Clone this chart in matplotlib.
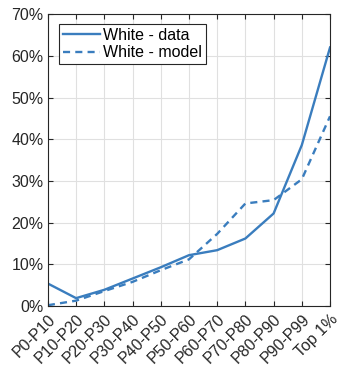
import numpy as np
import matplotlib.pyplot as plt
from matplotlib.ticker import PercentFormatter

plt.rcParams['font.family'] = ['Liberation Sans', 'DejaVu Sans']

groups = ["P0-P10", "P10-P20", "P20-P30", "P30-P40", "P40-P50", "P50-P60",
          "P60-P70", "P70-P80", "P80-P90", "P90-P99", "Top 1%"]
white_data = [5.4, 1.9, 3.9, 6.6, 9.3, 12.2, 13.4, 16.2, 22.2, 38.6, 62.0]
white_model = [0.2, 1.3, 3.6, 5.8, 8.6, 11.2, 17.3, 24.6, 25.4, 30.4, 45.5]

blue = "#3A7DBE"

fig = plt.figure(figsize=(3.42, 3.71), dpi=100)
ax = fig.add_axes([0.140, 0.175, 0.825, 0.787])

x = np.arange(len(groups))
ax.plot(x, white_data, color=blue, lw=1.7, label="White - data")
ax.plot(x, white_model, color=blue, lw=1.7, ls=(0, (3, 2.2)), label="White - model")

ax.set_xlim(0, len(groups) - 1)
ax.set_ylim(0, 70)
ax.set_yticks(np.arange(0, 71, 10))
ax.yaxis.set_major_formatter(PercentFormatter(decimals=0))
ax.set_xticks(x)
ax.set_xticklabels(groups, rotation=45, ha="right", rotation_mode="anchor")

ax.grid(True, color="#E0E0E0", lw=0.8)
ax.set_axisbelow(True)
ax.tick_params(direction="in", top=True, right=True, length=3.5, width=0.8,
               labelsize=11.5, colors="#262626", pad=3)
ax.tick_params(axis="x", pad=4)
for s in ax.spines.values():
    s.set_color("#262626")
    s.set_linewidth(0.8)

leg = ax.legend(loc="upper left", bbox_to_anchor=(0.04, 0.966), fontsize=11.5,
                fancybox=False, framealpha=1, edgecolor="#262626",
                handlelength=2.3, handletextpad=0.2, borderpad=0.25,
                labelspacing=0.15, borderaxespad=0)
leg.get_frame().set_linewidth(0.8)

fig.savefig("out.png", dpi=100)
